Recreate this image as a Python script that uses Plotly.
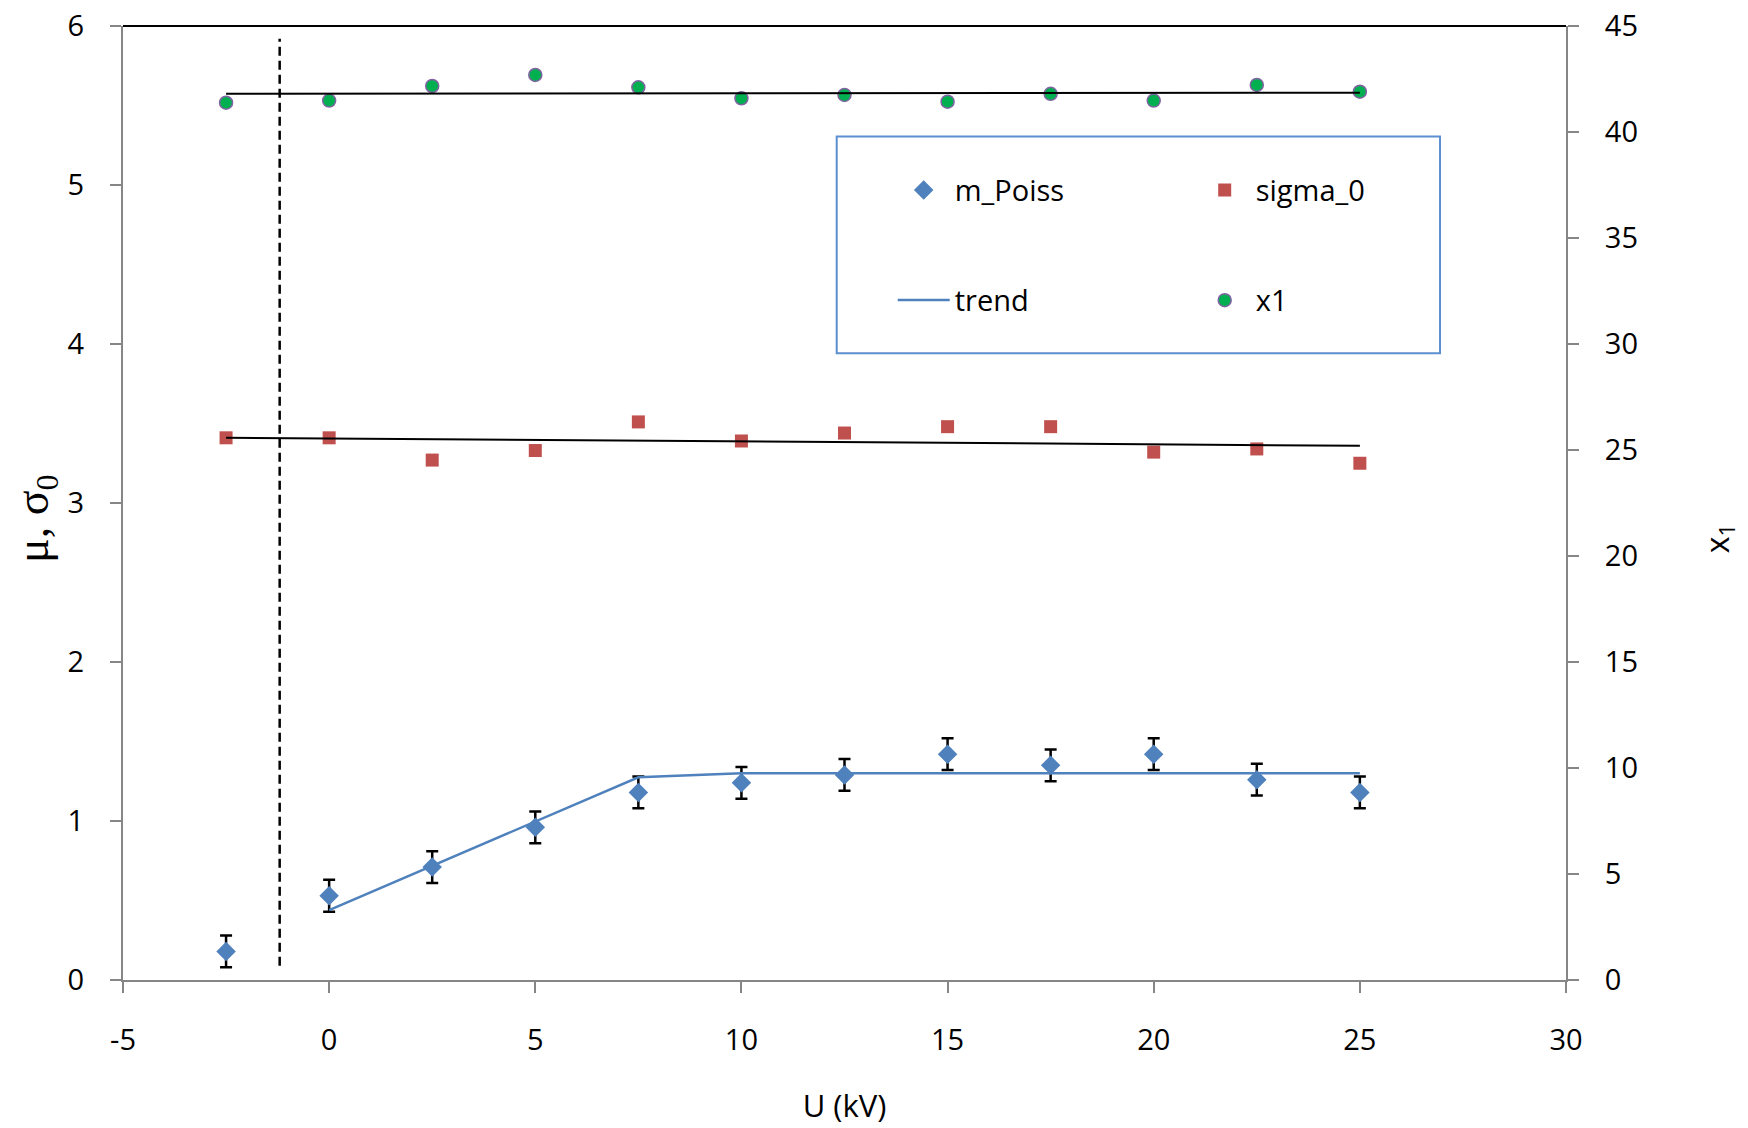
import plotly.graph_objects as go

# ---------------- data ----------------
U_kV = [-2.5, 0, 2.5, 5, 7.5, 10, 12.5, 15, 17.5, 20, 22.5, 25]
m_poiss = [0.18, 0.53, 0.71, 0.96, 1.18, 1.24, 1.29, 1.42, 1.35, 1.42, 1.26, 1.18]
m_poiss_err = [0.1] * 12
sigma_0 = [3.41, 3.41, 3.27, 3.33, 3.51, 3.39, 3.44, 3.48, 3.48, 3.32, 3.34, 3.25]
x1 = [41.38, 41.48, 42.17, 42.69, 42.11, 41.59, 41.75, 41.43, 41.80, 41.48, 42.22, 41.90]

trend_x = [0, 7.5, 10, 25]
trend_y = [0.44, 1.275, 1.30, 1.30]

sigma_trend_x = [-2.5, 25]
sigma_trend_y = [3.41, 3.36]
x1_trend_x = [-2.5, 25]
x1_trend_y = [41.80, 41.85]

cutoff_x = [-1.2, -1.2]
cutoff_y = [0.09, 5.92]

x_ticks = [-5, 0, 5, 10, 15, 20, 25, 30]
y_ticks = [0, 1, 2, 3, 4, 5, 6]
y2_ticks = [0, 5, 10, 15, 20, 25, 30, 35, 40, 45]

# ---------------- styles ----------------
FONT = "Open Sans"
BLUE = "#4F81BD"
RED = "#C0504D"
GREEN = "#00B050"
PURPLE = "#8064A2"
AXIS_GRAY = "#868686"

fig = go.Figure()

fig.add_trace(go.Scatter(
    x=U_kV, y=m_poiss, mode="markers", name="m_Poiss",
    marker=dict(symbol="diamond", size=15, color=BLUE),
    error_y=dict(type="data", array=m_poiss_err, color="black", thickness=2.5, width=6),
    legend="legend",
))
fig.add_trace(go.Scatter(
    x=U_kV, y=sigma_0, mode="markers", name="sigma_0",
    marker=dict(symbol="square", size=13, color=RED),
    legend="legend",
))
fig.add_trace(go.Scatter(
    x=trend_x, y=trend_y, mode="lines", name="trend",
    line=dict(color=BLUE, width=2.5),
    legend="legend2",
))
fig.add_trace(go.Scatter(
    x=U_kV, y=x1, mode="markers", name="x1", yaxis="y2",
    marker=dict(symbol="circle", size=13, color=GREEN, line=dict(color=PURPLE, width=1.5)),
    legend="legend2",
))
fig.add_trace(go.Scatter(
    x=sigma_trend_x, y=sigma_trend_y, mode="lines", showlegend=False,
    line=dict(color="black", width=2),
))
fig.add_trace(go.Scatter(
    x=x1_trend_x, y=x1_trend_y, mode="lines", showlegend=False, yaxis="y2",
    line=dict(color="black", width=2),
))
fig.add_trace(go.Scatter(
    x=cutoff_x, y=cutoff_y, mode="lines", showlegend=False,
    line=dict(color="black", width=2.5, dash="9px,5px"),
))

tickfont = dict(family=FONT, size=29, color="black")

legend_common = dict(
    orientation="h", xanchor="left", yanchor="middle",
    bgcolor="rgba(0,0,0,0)", borderwidth=0, entrywidth=234, itemwidth=52,
    font=dict(family=FONT, size=29, color="black"),
)

fig.update_layout(
    width=1748, height=1128,
    margin=dict(l=123, r=182, t=26, b=148),
    paper_bgcolor="white", plot_bgcolor="white",
    font=dict(family=FONT, color="black"),
    xaxis=dict(
        range=[-5, 30], tickvals=x_ticks, ticktext=[str(v) for v in x_ticks],
        showgrid=False, zeroline=False, showline=True, linecolor=AXIS_GRAY, linewidth=2,
        ticks="outside", ticklen=11, tickwidth=2, tickcolor=AXIS_GRAY,
        tickfont=tickfont, ticklabelstandoff=22,
        title=dict(text="U (kV)", font=dict(family=FONT, size=31), standoff=39),
        automargin=False,
    ),
    yaxis=dict(
        range=[0, 6], tickvals=y_ticks, ticktext=[str(v) for v in y_ticks],
        showgrid=False, zeroline=False, showline=True, linecolor=AXIS_GRAY, linewidth=2,
        ticks="outside", ticklen=11, tickwidth=2, tickcolor=AXIS_GRAY,
        tickfont=tickfont, ticklabelstandoff=20,
        automargin=False,
    ),
    yaxis2=dict(
        range=[0, 45], tickvals=y2_ticks, ticktext=[str(v) for v in y2_ticks],
        overlaying="y", side="right",
        showgrid=False, zeroline=False, showline=True, linecolor=AXIS_GRAY, linewidth=2,
        ticks="outside", ticklen=11, tickwidth=2, tickcolor=AXIS_GRAY,
        tickfont=tickfont, ticklabelstandoff=20,
        automargin=False,
    ),
    legend=dict(x=0.5334, y=0.828, **legend_common),
    legend2=dict(x=0.5334, y=0.7125, **legend_common),
    shapes=[
        dict(type="rect", xref="paper", yref="paper", x0=0.4946, x1=0.9127, y0=0.657, y1=0.8843,
             line=dict(color="#5B8FD0", width=2), fillcolor="rgba(0,0,0,0)", layer="below"),
        dict(type="line", xref="paper", yref="paper", x0=0, x1=1, y0=1, y1=1,
             line=dict(color="black", width=2)),
    ],
    annotations=[
        dict(text="μ, σ<sub>0</sub>", xref="paper", yref="paper", x=-0.0598, y=0.484,
             xanchor="center", yanchor="middle", textangle=-90, showarrow=False,
             font=dict(family="Liberation Serif", size=46, color="black")),
        dict(text="x<sub>1</sub>", xref="paper", yref="paper", x=1.106, y=0.463,
             xanchor="center", yanchor="middle", textangle=-90, showarrow=False,
             font=dict(family=FONT, size=32, color="black")),
    ],
)

fig.write_html(
    "out.html",
    config={"displayModeBar": False},
    post_script="document.body.style.margin='0';document.body.style.overflow='hidden';",
)
